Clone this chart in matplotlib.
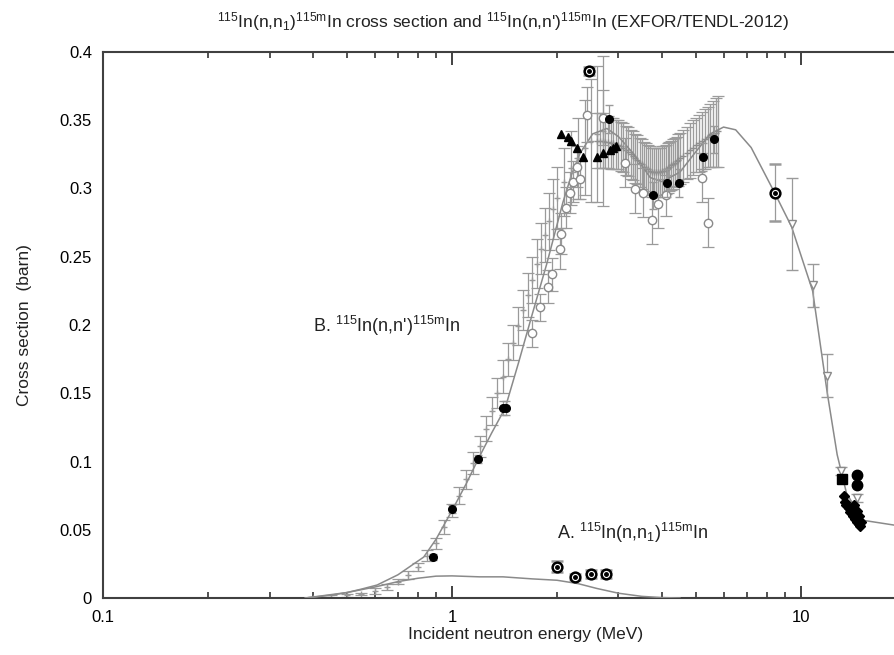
import matplotlib

matplotlib.use("Agg")
import matplotlib.pyplot as plt
from matplotlib.ticker import FixedLocator, FuncFormatter, LogLocator, NullFormatter

plt.rcParams["font.family"] = ["Liberation Sans", "DejaVu Sans"]
plt.rcParams["mathtext.fontset"] = "custom"
plt.rcParams["mathtext.rm"] = "Liberation Sans"
plt.rcParams["mathtext.it"] = "Liberation Sans:italic"

# TENDL-2012 evaluations (MeV, barn)
tendl_nn_e = [0.38, 0.45, 0.5, 0.55, 0.61, 0.7, 0.83, 0.9, 1.0, 1.1, 1.19, 1.3, 1.42, 1.55, 1.69,
              1.87, 2.08, 2.2, 2.33, 2.53, 2.78, 3.0, 3.3, 3.7, 4.0, 4.5, 5.0, 5.5, 6.0, 6.5, 7.2,
              8.4, 9.4, 10.8, 11.9, 12.7, 13.5, 15.0, 18.4, 20.0]
tendl_nn_xs = [0.0, 0.002, 0.004, 0.0065, 0.0095, 0.017, 0.030, 0.043, 0.064, 0.084, 0.102, 0.121,
               0.139, 0.172, 0.206, 0.245, 0.290, 0.310, 0.326, 0.340, 0.344, 0.338, 0.326, 0.308,
               0.305, 0.312, 0.327, 0.340, 0.345, 0.343, 0.330, 0.297, 0.272, 0.225, 0.150, 0.105,
               0.077, 0.057, 0.0535, 0.052]
tendl_nn1_e = [0.38, 0.5, 0.6, 0.7, 0.8, 0.9, 1.0, 1.2, 1.4, 1.7, 2.0, 2.3, 2.6, 3.0, 3.5, 4.0, 4.5]
tendl_nn1_xs = [0.0, 0.004, 0.008, 0.012, 0.0145, 0.016, 0.0162, 0.0155, 0.0155, 0.014, 0.013,
                0.0105, 0.007, 0.0035, 0.0012, 0.0003, 0.0]

# EXFOR: dense activation data below 2.7 MeV (gray pluses)
set1_e = [0.40, 0.45, 0.50, 0.55, 0.60, 0.65, 0.70, 0.75, 0.80, 0.85, 0.90, 0.95, 1.00, 1.05, 1.10,
          1.15, 1.20, 1.25, 1.30, 1.35, 1.40, 1.45, 1.50, 1.55, 1.60, 1.65, 1.70, 1.75, 1.80, 1.85,
          1.90, 1.95, 2.00, 2.10, 2.20, 2.30, 2.40, 2.50, 2.60, 2.70]
set1_xs = [0.000, 0.001, 0.002, 0.003, 0.005, 0.008, 0.012, 0.017, 0.023, 0.031, 0.040, 0.052, 0.064,
           0.075, 0.087, 0.099, 0.111, 0.124, 0.137, 0.150, 0.162, 0.175, 0.187, 0.199, 0.211, 0.222,
           0.233, 0.245, 0.256, 0.266, 0.276, 0.285, 0.293, 0.305, 0.315, 0.322, 0.330, 0.335, 0.340,
           0.342]
set1_err = [0.001, 0.001, 0.001, 0.001, 0.002, 0.002, 0.002, 0.003, 0.003, 0.004, 0.004, 0.005, 0.005,
            0.006, 0.007, 0.008, 0.008, 0.009, 0.010, 0.011, 0.012, 0.012, 0.013, 0.014, 0.015, 0.016,
            0.017, 0.018, 0.019, 0.020, 0.021, 0.022, 0.023, 0.025, 0.027, 0.030, 0.035, 0.045, 0.050,
            0.055]

# EXFOR: dense band 2.6-5.8 MeV
set2_e = [2.6, 2.65, 2.7, 2.75, 2.8, 2.85, 2.9, 2.95, 3.0, 3.05, 3.1, 3.15, 3.2, 3.25, 3.3, 3.35,
          3.4, 3.45, 3.5, 3.55, 3.6, 3.65, 3.7, 3.75, 3.8, 3.85, 3.9, 3.95, 4.0, 4.05, 4.1, 4.15, 4.2,
          4.25, 4.3, 4.35, 4.4, 4.45, 4.5, 4.6, 4.7, 4.8, 4.9, 5.0, 5.1, 5.2, 5.3, 5.4, 5.5, 5.6,
          5.7, 5.8]
set2_xs = [0.335, 0.335, 0.335, 0.334, 0.334, 0.333, 0.333, 0.332, 0.332, 0.331, 0.330, 0.328, 0.327,
           0.325, 0.324, 0.322, 0.321, 0.319, 0.318, 0.316, 0.315, 0.314, 0.313, 0.312, 0.312, 0.312,
           0.312, 0.312, 0.313, 0.313, 0.314, 0.315, 0.316, 0.317, 0.318, 0.319, 0.320, 0.321, 0.322,
           0.324, 0.326, 0.328, 0.330, 0.332, 0.333, 0.335, 0.336, 0.338, 0.339, 0.340, 0.341, 0.342]
set2_err = [0.020, 0.020, 0.020, 0.019, 0.019, 0.019, 0.019, 0.018, 0.018, 0.018, 0.018, 0.018, 0.018,
            0.018, 0.018, 0.018, 0.018, 0.018, 0.018, 0.018, 0.018, 0.018, 0.018, 0.018, 0.018, 0.018,
            0.018, 0.018, 0.018, 0.018, 0.018, 0.018, 0.018, 0.018, 0.018, 0.018, 0.018, 0.019, 0.019,
            0.019, 0.019, 0.020, 0.020, 0.020, 0.021, 0.021, 0.022, 0.022, 0.023, 0.024, 0.025, 0.026]

# EXFOR: open circles
circ_e = [1.69, 1.79, 1.88, 1.93, 2.04, 2.05, 2.12, 2.18, 2.22, 2.28, 2.33, 2.44, 2.71, 3.13, 3.34,
          3.52, 3.74, 3.90, 4.10, 5.2, 5.4]
circ_xs = [0.194, 0.213, 0.228, 0.237, 0.256, 0.267, 0.286, 0.297, 0.305, 0.316, 0.307, 0.354, 0.352,
           0.319, 0.300, 0.297, 0.277, 0.289, 0.295, 0.308, 0.275]
circ_err = [0.010, 0.010, 0.012, 0.012, 0.015, 0.015, 0.015, 0.015, 0.015, 0.015, 0.015, 0.020, 0.020,
            0.018, 0.018, 0.018, 0.018, 0.018, 0.015, 0.018, 0.018]

# EXFOR: filled triangles
tri_e = [2.05, 2.15, 2.2, 2.28, 2.38, 2.6, 2.71, 2.83, 2.9, 2.96]
tri_xs = [0.340, 0.338, 0.335, 0.330, 0.323, 0.323, 0.326, 0.328, 0.330, 0.331]

# EXFOR: filled dots
dot_e = [0.883, 1.0, 1.19, 1.40, 1.43, 2.82, 3.77, 4.13, 4.47, 5.24, 5.65]
dot_xs = [0.030, 0.065, 0.102, 0.139, 0.139, 0.351, 0.295, 0.304, 0.304, 0.323, 0.336]
dot_err = [0.002, 0.003, 0.003, 0.005, 0.005, 0.010, 0.010, 0.010, 0.010, 0.010, 0.010]

# EXFOR: circled dots (n,n') and the (n,n1) points
odot_e = [2.47, 8.42]
odot_xs = [0.386, 0.297]
odot_err = [0.003, 0.021]
nn1_e = [2.0, 2.25, 2.5, 2.76]
nn1_xs = [0.023, 0.0154, 0.0176, 0.0176]
nn1_err = [0.004, 0.002, 0.003, 0.003]

# EXFOR: open down-triangles near 10 MeV
dtri_e = [9.4, 10.8, 11.9, 13.0, 14.5]
dtri_xs = [0.274, 0.229, 0.163, 0.093, 0.073]
dtri_err = [0.034, 0.016, 0.016, 0.003, 0.003]

# EXFOR: 14 MeV cluster
d14_e = [13.1, 13.3, 13.4, 13.5, 13.7, 13.8, 14.0, 14.1, 14.2, 14.3, 14.5, 14.5, 14.7, 14.7, 14.8, 14.9]
d14_xs = [0.087, 0.075, 0.070, 0.068, 0.066, 0.063, 0.062, 0.060, 0.068, 0.058, 0.056, 0.064, 0.054,
          0.060, 0.053, 0.056]
ell14_e = [14.5, 14.5]
ell14_xs = [0.090, 0.083]

GRAY = "#8a8a8a"
EBAR = "#9a9a9a"

fig = plt.figure(figsize=(8.94, 6.55), dpi=100)
ax = fig.add_axes([103 / 894, 57 / 655, 803 / 894, 546 / 655])

ax.plot(tendl_nn_e, tendl_nn_xs, color=GRAY, lw=1.1, zorder=3)
ax.plot(tendl_nn1_e, tendl_nn1_xs, color=GRAY, lw=1.1, zorder=3)

ax.errorbar(set1_e, set1_xs, yerr=set1_err, fmt="+", ms=5, color=EBAR, ecolor=EBAR,
            elinewidth=0.9, capsize=4, capthick=0.9, zorder=2)
ax.errorbar(set2_e, set2_xs, yerr=set2_err, fmt="+", ms=5, color="#8f8f8f", ecolor="#9c9c9c",
            elinewidth=1.0, capsize=4, capthick=0.9, zorder=2)
ax.errorbar(circ_e, circ_xs, yerr=circ_err, fmt="o", ms=6, mfc="white", mec=GRAY, ecolor=EBAR,
            elinewidth=0.9, capsize=4, capthick=0.9, zorder=4)
ax.plot(tri_e, tri_xs, "^", ms=5.5, color="black", zorder=5)
ax.errorbar(dot_e, dot_xs, yerr=dot_err, fmt="o", ms=5.5, color="black", ecolor=EBAR,
            elinewidth=0.9, capsize=3, zorder=5)
ax.errorbar(odot_e, odot_xs, yerr=odot_err, fmt="o", ms=7, mfc="white", mec="black", mew=1.8,
            ecolor=EBAR, elinewidth=0.9, capsize=4, zorder=6)
ax.plot(odot_e, odot_xs, "o", ms=2.5, color="black", zorder=7)
ax.errorbar(nn1_e, nn1_xs, yerr=nn1_err, fmt="o", ms=7, mfc="white", mec="black", mew=1.8,
            ecolor=EBAR, elinewidth=0.9, capsize=4, zorder=6)
ax.plot(nn1_e, nn1_xs, "o", ms=2.5, color="black", zorder=7)
ax.errorbar(dtri_e, dtri_xs, yerr=dtri_err, fmt="v", ms=6, mfc="white", mec=GRAY, ecolor=EBAR,
            elinewidth=0.9, capsize=4, zorder=4)
ax.plot(d14_e, d14_xs, "D", ms=5.5, color="black", zorder=5)
ax.plot(d14_e[:1], d14_xs[:1], "s", ms=7, color="black", zorder=5)
ax.plot(ell14_e, ell14_xs, "o", ms=7.5, color="black", zorder=5)

ax.set_xscale("log")
ax.set_xlim(0.1, 20)
ax.set_ylim(0, 0.4)

ax.xaxis.set_major_locator(FixedLocator([0.1, 1, 10]))
ax.xaxis.set_major_formatter(FuncFormatter(lambda v, p: f"{v:g}"))
ax.xaxis.set_minor_locator(LogLocator(base=10, subs=range(2, 10)))
ax.xaxis.set_minor_formatter(NullFormatter())
ax.yaxis.set_major_locator(FixedLocator([0, 0.05, 0.1, 0.15, 0.2, 0.25, 0.3, 0.35, 0.4]))
ax.yaxis.set_major_formatter(FuncFormatter(lambda v, p: f"{v:g}"))

ax.tick_params(axis="x", which="major", direction="in", top=True, length=9, width=1.3,
               color="#333333", labelsize=12, pad=9)
ax.tick_params(axis="x", which="minor", direction="in", top=True, length=4, width=1.2,
               color="#333333")
ax.tick_params(axis="y", which="major", direction="in", length=0, labelsize=12, pad=8)
for side in ("left", "bottom", "top"):
    ax.spines[side].set_color("#404040")
    ax.spines[side].set_linewidth(1.5)
ax.spines["right"].set_visible(False)

ax.text(0.40, 0.199, r"B. $^{115}$In(n,n')$^{\mathrm{115m}}$In", fontsize=13, va="center",
        color="#222222")
ax.text(2.0, 0.048, r"A. $^{115}$In(n,n$_1$)$^{\mathrm{115m}}$In", fontsize=13, va="center",
        color="#222222")

fig.text(503 / 894, 1 - 22 / 655,
         r"$^{115}$In(n,n$_1$)$^{\mathrm{115m}}$In cross section and "
         r"$^{115}$In(n,n')$^{\mathrm{115m}}$In (EXFOR/TENDL-2012)",
         ha="center", va="center", fontsize=12.5, color="#222222")
fig.text(526 / 894, 1 - 635 / 655, "Incident neutron energy (MeV)", ha="center", va="center",
         fontsize=12.5, color="#222222")
fig.text(25 / 894, 1 - 325 / 655, "Cross section  (barn)", ha="center", va="center",
         rotation=90, fontsize=12.5, color="#222222")

fig.savefig("out.png", dpi=100)
